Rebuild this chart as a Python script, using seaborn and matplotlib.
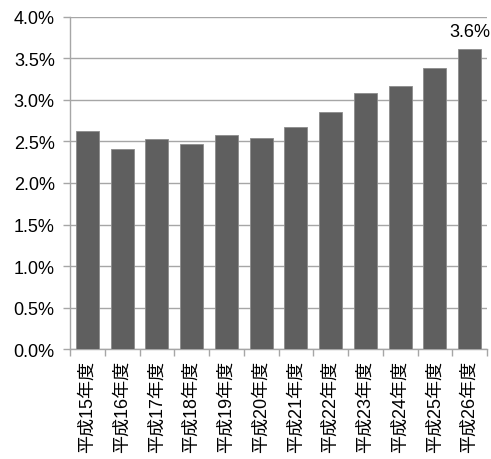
import matplotlib
matplotlib.use("Agg")
import matplotlib.pyplot as plt
import seaborn as sns
import pandas as pd
import numpy as np
from matplotlib.ticker import FixedLocator, PercentFormatter

# 年度別の比率（%）
years = ["平成15年度", "平成16年度", "平成17年度", "平成18年度", "平成19年度", "平成20年度",
         "平成21年度", "平成22年度", "平成23年度", "平成24年度", "平成25年度", "平成26年度"]
rates = [2.63, 2.41, 2.53, 2.47, 2.58, 2.54, 2.67, 2.86, 3.08, 3.17, 3.39, 3.62]
yticks = [0.0, 0.5, 1.0, 1.5, 2.0, 2.5, 3.0, 3.5, 4.0]

sns.set_theme(style="white")
plt.rcParams["font.family"] = ["Liberation Sans", "Noto Sans CJK JP"]

df = pd.DataFrame({"year": years, "rate": rates})

fig = plt.figure(figsize=(4.91, 4.60), dpi=100)
ax = fig.add_axes([0.1426, 0.2391, 0.992 - 0.1426, 0.9609 - 0.2391])

grid_c = "#a6a6a6"
sns.barplot(data=df, x="year", y="rate", color="#5f5f5f", saturation=1,
            width=0.66, edgecolor="#8c8c8c", linewidth=0.6, ax=ax, zorder=3)

ax.set_ylim(0, 4.0)
ax.set_xlim(-0.5, len(years) - 0.5)
ax.set_yticks(yticks)
ax.yaxis.set_major_formatter(PercentFormatter(decimals=1))
ax.yaxis.grid(True, color=grid_c, linewidth=1.0, zorder=0)
ax.set_axisbelow(True)

# 区切り目盛りとカテゴリラベル
n = len(years)
ax.xaxis.set_major_locator(FixedLocator(np.arange(-0.5, n, 1.0)))
ax.xaxis.set_minor_locator(FixedLocator(np.arange(n)))
ax.set_xticklabels([""] * (n + 1))
ax.set_xticklabels(years, minor=True, rotation=90, fontsize=13, color="#000000")
ax.tick_params(axis="x", which="major", bottom=True, length=5, width=1, color=grid_c)
ax.tick_params(axis="x", which="minor", bottom=True, length=0, pad=8)
ax.tick_params(axis="y", left=True, length=5, width=1, color=grid_c,
               labelsize=13, labelcolor="#000000", pad=6)

ax.set_xlabel("")
ax.set_ylabel("")
for side in ["top", "right"]:
    ax.spines[side].set_visible(False)
for side in ["left", "bottom"]:
    ax.spines[side].set_color(grid_c)
    ax.spines[side].set_linewidth(1.0)

# 最新年度の値ラベル
ax.text(n - 1, rates[-1] + 0.1, f"{rates[-1]:.1f}%", ha="center", va="bottom",
        fontsize=13, color="#000000")

fig.savefig("out.png", dpi=100)
